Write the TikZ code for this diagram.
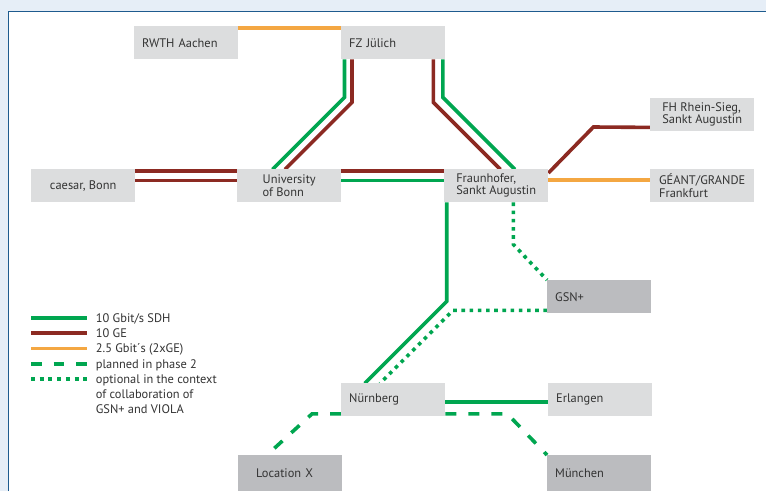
\documentclass[tikz,border=0pt]{standalone}
\usepackage{fontspec}
\setmainfont{PT Sans}
\usetikzlibrary{backgrounds}
\definecolor{lgreen}{HTML}{00A650}
\definecolor{lbrown}{HTML}{8C2A22}
\definecolor{lorange}{HTML}{F4A742}
\definecolor{boxlight}{HTML}{DCDDDE}
\definecolor{boxdark}{HTML}{BBBCBF}
\definecolor{txt}{HTML}{333333}
\definecolor{outerbg}{HTML}{E6EEF7}
\definecolor{frameblue}{HTML}{1E5B8E}
\tikzset{
  every node/.style={font=\fontsize{12.4}{12.2}\selectfont, text=txt},
  lbox/.style={fill=boxlight, anchor=north west, minimum width=104pt, minimum height=33pt, inner sep=0pt, align=left},
  dbox/.style={lbox, fill=boxdark},
  leftpad/.style={text width=88pt, inner xsep=8pt},
  widepad/.style={text width=68pt, inner xsep=18pt},
  gline/.style={draw=lgreen, line width=3.6pt},
  bline/.style={draw=lbrown, line width=3.6pt},
  oline/.style={draw=lorange, line width=3.6pt},
  dashline/.style={gline, dash pattern=on 11pt off 12pt},
  dotline/.style={gline, dash pattern=on 3.6pt off 4.6pt},
  legtext/.style={anchor=base west, inner sep=0pt, align=left, font=\fontsize{12.4}{15.2}\selectfont}
}
\begin{document}
\begin{tikzpicture}[x=1pt,y=-1pt]
\useasboundingbox (0,0) rectangle (766,491);
% boxes
\node[lbox,leftpad] (rwth) at (134,26) {RWTH Aachen};
\node[lbox,leftpad] (fz) at (341,26) {FZ Jülich};
\node[lbox] (fh) at (650,98) {FH Rhein-Sieg,\\Sankt Augustin};
\node[lbox] (caesar) at (31,169) {caesar, Bonn};
\node[lbox] (uni) at (237,169) {University\\of Bonn};
\node[lbox] (fraun) at (444,169) {Fraunhofer,\\Sankt Augustin};
\node[lbox] (geant) at (650,169) {GÉANT/GRANDE\\Frankfurt};
\node[dbox,leftpad] (gsn) at (547,280) {GSN+};
\node[lbox,leftpad] (nurn) at (341,383) {Nürnberg};
\node[lbox,leftpad] (erl) at (548,383) {Erlangen};
\node[dbox,widepad,minimum height=36pt] (locx) at (238,455) {Location X};
\node[dbox,leftpad,minimum height=36pt] (mun) at (547,455) {München};
% legend texts
\node[legtext] (lg1) at (95.7,322) {10 Gbit/s SDH};
\node[legtext] (lg2) at (95.7,337) {10 GE};
\node[legtext] (lg3) at (95.7,352.6) {2.5 Gbit´s (2xGE)};
\node[legtext] (lg4) at (95.7,368.3) {planned in phase 2};
\node[legtext] (lg5) at (95.7,413.7) {optional in the context\\of collaboration of\\GSN+ and VIOLA};
\begin{scope}[on background layer]
  \fill[outerbg] (0,0) rectangle (766,491);
  \fill[white] (8.5,11.5) rectangle (766,491);
  \draw[frameblue, line width=1.5pt] (8.5,491) -- (8.5,11.5) -- (766,11.5);
  % connectors
  \draw[oline] ([yshift=-2pt]rwth.north east) -- ([yshift=-2pt]fz.north west);
  \draw[gline] ([xshift=3.5pt]fz.south west) -- ++(0,38) -- ++(-72,72);
  \draw[bline] ([xshift=11pt]fz.south west) -- ++(0,43) -- ++(-67,67);
  \draw[bline] ([xshift=-12pt]fz.south east) -- ++(0,43) -- ++(67,67);
  \draw[gline] ([xshift=-2.5pt]fz.south east) -- ++(0,38) -- ++(72,72);
  \draw[bline] ([yshift=-2.2pt]caesar.north east) -- ([yshift=-2.2pt]uni.north west);
  \draw[bline] ([yshift=-11.5pt]caesar.north east) -- ([yshift=-11.5pt]uni.north west);
  \draw[bline] ([yshift=-2.2pt]uni.north east) -- ([yshift=-2.2pt]fraun.north west);
  \draw[gline] ([yshift=-11.5pt]uni.north east) -- ([yshift=-11.5pt]fraun.north west);
  \draw[bline] ([yshift=-4pt]fraun.north east) -- ++(45,-46) -- ([yshift=4pt]fh.south west);
  \draw[oline] ([yshift=-11pt]fraun.north east) -- ([yshift=-11pt]geant.north west);
  \draw[gline] ([xshift=2.7pt]fraun.south west) -- ++(0,99) -- ++(-82,82);
  \draw[dotline] ([xshift=69.3pt]fraun.south west) -- ++(0,42) -- (gsn.north west);
  \draw[dotline] ([yshift=3pt]gsn.south west) -- ++(-94,0) -- ++(-73,73);
  \draw[gline] ([yshift=-19pt]nurn.north east) -- ([yshift=-19pt]erl.north west);
  \draw[dashline] ([yshift=2.5pt]nurn.south east) -- ++(62,0) -- (mun.north west);
  \draw[dashline] ([yshift=2.5pt]nurn.south west) -- ++(-29,0) -- ([xshift=29pt]locx.north west);
  % legend samples
  \draw[gline] (31,317.7) -- (87,317.7);
  \draw[bline] (31,332.7) -- (87,332.7);
  \draw[oline] (31,348.3) -- (87,348.3);
  \draw[gline, dash pattern=on 10.7pt off 12pt] (31,364) -- (87,364);
  \draw[gline, dash pattern=on 4pt off 4.7pt] (31,379) -- (87,379);
\end{scope}
\end{tikzpicture}
\end{document}
